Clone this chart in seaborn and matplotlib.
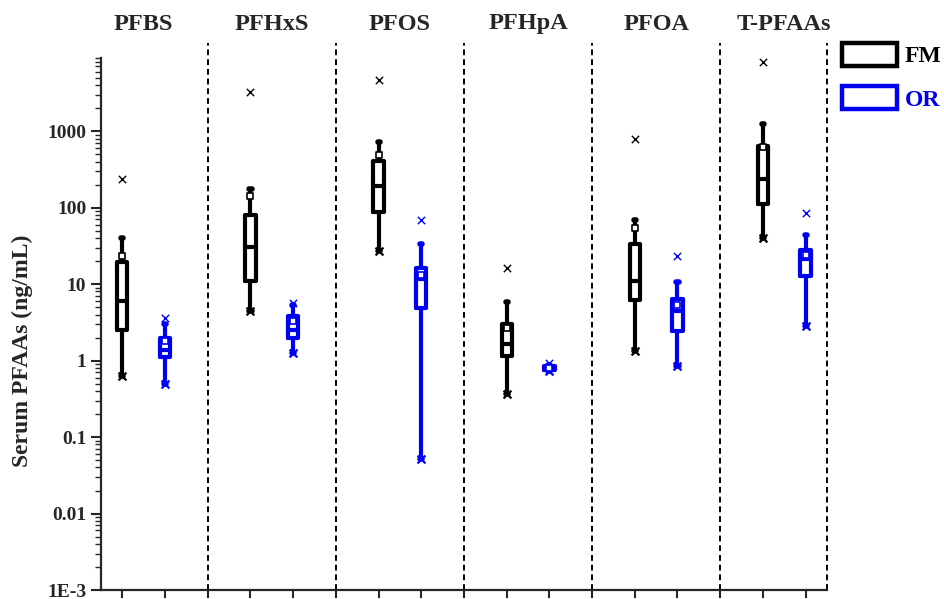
import numpy as np
import pandas as pd
import matplotlib
matplotlib.use("Agg")
import matplotlib.pyplot as plt
import matplotlib.transforms as mtransforms
from matplotlib.patches import Patch
from matplotlib.ticker import LogLocator, FixedLocator, FixedFormatter, NullFormatter
import seaborn as sns

# ---------------- data ----------------
categories = ["PFBS", "PFHxS", "PFOS", "PFHpA", "PFOA", "T-PFAAs"]
groups = ["FM", "OR"]

fm_whislo = [0.62, 4.4, 27, 0.36, 1.34, 40]
fm_q1     = [2.5, 10.9, 87, 1.15, 6.1, 112]
fm_med    = [6.0, 30.5, 194, 1.63, 11.1, 237]
fm_q3     = [19.3, 80, 405, 2.97, 33, 645]
fm_whishi = [40, 175, 725, 5.9, 69, 1250]
fm_mean   = [23, 141, 486, 2.7, 54, 620]
fm_max    = [236, 3250, 4600, 16.2, 785, 7990]

or_whislo = [0.49, 1.27, 0.052, 0.72, 0.85, 2.8]
or_q1     = [1.1, 2.0, 4.9, 0.75, 2.4, 12.7]
or_med    = [1.39, 2.5, 11.7, 0.79, 4.4, 21]
or_q3     = [2.0, 3.8, 16.2, 0.84, 6.3, 28]
or_whishi = [2.97, 5.4, 33, 0.88, 10.6, 44]
or_mean   = [1.8, 3.3, 13.3, 0.80, 5.3, 23.8]
or_max    = [3.6, 5.7, 69, 0.92, 23, 85]

ytick_vals = [1e-3, 1e-2, 1e-1, 1, 10, 100, 1000]
ytick_labels = ["1E-3", "0.01", "0.1", "1", "10", "100", "1000"]

colors = {"FM": "#000000", "OR": "#0000f0"}

# ---------------- build tidy frame ----------------
stats = {
    "FM": (fm_whislo, fm_q1, fm_med, fm_q3, fm_whishi, fm_mean, fm_max),
    "OR": (or_whislo, or_q1, or_med, or_q3, or_whishi, or_mean, or_max),
}
rows, extra = [], []
for i, cat in enumerate(categories):
    for j, g in enumerate(groups):
        lo, q1, md, q3, hi, mn, mx = (s[i] for s in stats[g])
        pos = 3 * i + 1 + j
        for v in (lo, q1, md, q3, hi):
            rows.append(dict(pos=pos, value=v, group=g, category=cat))
        extra.append(dict(pos=pos, group=g, mean=mn, vmax=mx, vmin=lo))
df = pd.DataFrame(rows)
ex = pd.DataFrame(extra)

# ---------------- style ----------------
sns.set_style("ticks")
plt.rcParams["font.family"] = ["Liberation Serif", "DejaVu Serif"]
plt.rcParams["font.weight"] = "bold"

fig = plt.figure(figsize=(9.44, 5.99), dpi=100)
ax = fig.add_axes([0.107, 0.015, 0.769, 0.888])

box_kws = dict(
    data=df, x="pos", y="value", hue="group", hue_order=groups,
    palette=colors, native_scale=True, dodge=False, fill=False,
    width=0.24, whis=(0, 100), showfliers=False, linewidth=3.0,
    log_scale=(False, True), legend=False, ax=ax,
    capprops=dict(solid_capstyle="round", linewidth=4.0),
    whiskerprops=dict(linewidth=3.0),
)
try:
    sns.boxplot(capwidths=0.05, **box_kws)
except Exception:
    ax.cla()
    sns.boxplot(**box_kws)

for g in groups:
    sub = ex[ex["group"] == g]
    sns.scatterplot(x=sub["pos"], y=sub["vmax"], marker="x", color=colors[g],
                    s=28, linewidth=1.0, ax=ax, zorder=5)
    sns.scatterplot(x=sub["pos"], y=sub["vmin"], marker="x", color=colors[g],
                    s=32, linewidth=1.6, ax=ax, zorder=5)
    sns.scatterplot(x=sub["pos"], y=sub["mean"], marker="s", color="white",
                    edgecolor=colors[g], s=18, linewidth=1.2, ax=ax, zorder=5)

ax.set_xlim(0.5, 17.5)
ax.set_ylim(1e-3, 9000)
ax.set_xlabel("")
ax.set_ylabel("Serum PFAAs (ng/mL)", fontsize=17, fontweight="bold")
ax.yaxis.set_label_coords(-0.094, 0.45)

ax.set_xticks(range(1, 18))
ax.set_xticklabels([])
ax.yaxis.set_major_locator(FixedLocator(ytick_vals))
ax.yaxis.set_major_formatter(FixedFormatter(ytick_labels))
ax.yaxis.set_minor_locator(LogLocator(base=10, subs=np.arange(2, 10), numticks=20))
ax.yaxis.set_minor_formatter(NullFormatter())
ax.tick_params(axis="y", which="major", length=7, width=1.5, labelsize=14, direction="out")
ax.tick_params(axis="y", which="minor", length=4, width=1.0, direction="out")
ax.tick_params(axis="x", which="major", length=6, width=1.5, direction="out")
for t in ax.get_yticklabels():
    t.set_fontweight("bold")

for s in ("top", "right"):
    ax.spines[s].set_visible(False)
for s in ("left", "bottom"):
    ax.spines[s].set_linewidth(1.6)

# dashed dividers between compounds
for xd in [3, 6, 9, 12, 15, 17.5]:
    ax.axvline(xd, ymin=0, ymax=1.028, color="black", lw=1.4,
               ls=(0, (3, 2)), clip_on=False, zorder=1)

# compound titles
trans = mtransforms.blended_transform_factory(ax.transData, fig.transFigure)
for i, cat in enumerate(categories):
    ax.text(3 * i + 1.5, 1 - 24 / 599, cat, transform=trans, ha="center",
            va="center", fontsize=17.5, fontweight="bold")

# legend
handles = [Patch(facecolor="none", edgecolor=colors[g], linewidth=3.2) for g in groups]
leg = fig.legend(handles, groups, loc="upper left",
                 bbox_to_anchor=(842 / 944, 1 - 43 / 599), frameon=False,
                 handlelength=2.35, handleheight=1.1,
                 handletextpad=0.3, labelspacing=0.8, borderpad=0,
                 borderaxespad=0, prop=dict(weight="bold", size=17))
for txt, g in zip(leg.get_texts(), groups):
    txt.set_color(colors[g])

fig.savefig("out.png", dpi=100)
